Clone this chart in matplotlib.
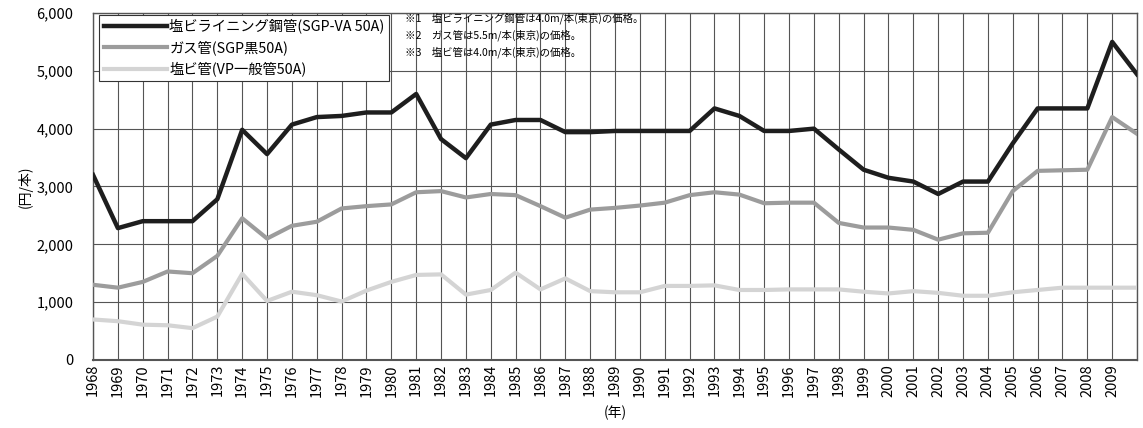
import matplotlib
matplotlib.use("Agg")
import matplotlib.pyplot as plt
from matplotlib.ticker import FuncFormatter

plt.rcParams['font.family'] = ['Noto Sans CJK JP', 'DejaVu Sans']

# Years and price series (円/本)
years = list(range(1968, 2011))
tick_labels = [str(y) for y in range(1968, 2010)] + [""]

lining_steel = [3200, 2280, 2400, 2400, 2400, 2780, 3980, 3560, 4070, 4200,
                4220, 4280, 4280, 4600, 3820, 3490, 4070, 4150, 4150, 3940,
                3940, 3960, 3960, 3960, 3960, 4350, 4220, 3960, 3960, 4000,
                3640, 3290, 3150, 3085, 2870, 3085, 3085, 3745, 4350, 4350,
                4350, 5500, 4940]
gas_pipe = [1300, 1250, 1350, 1530, 1500, 1800, 2450, 2100, 2320, 2390,
            2620, 2660, 2690, 2900, 2920, 2810, 2870, 2850, 2660, 2460,
            2600, 2630, 2670, 2720, 2850, 2900, 2860, 2710, 2720, 2720,
            2370, 2290, 2290, 2250, 2080, 2190, 2200, 2920, 3270, 3280,
            3290, 4200, 3910]
pvc_pipe = [700, 670, 610, 600, 550, 750, 1490, 1020, 1180, 1120,
            1010, 1200, 1350, 1470, 1480, 1130, 1210, 1510, 1220, 1410,
            1190, 1170, 1170, 1280, 1280, 1290, 1210, 1210, 1220, 1220,
            1220, 1180, 1150, 1190, 1160, 1110, 1110, 1170, 1210, 1250,
            1250, 1250, 1250]

labels = ["塩ビライニング鋼管(SGP-VA 50A)", "ガス管(SGP黒50A)", "塩ビ管(VP一般管50A)"]
notes = ["※1　塩ビライニング鋼管は4.0m/本(東京)の価格。",
         "※2　ガス管は5.5m/本(東京)の価格。",
         "※3　塩ビ管は4.0m/本(東京)の価格。"]

fig = plt.figure(figsize=(11.43, 4.28), dpi=100)
ax = fig.add_axes([0.0814, 0.159, 0.9134, 0.8106])

ax.plot(years, lining_steel, color="#1e1e1e", linewidth=3.2, label=labels[0], zorder=5)
ax.plot(years, gas_pipe, color="#9c9c9c", linewidth=3.0, label=labels[1], zorder=4)
ax.plot(years, pvc_pipe, color="#d4d4d4", linewidth=3.0, label=labels[2], zorder=3)

ax.set_xlim(1968, 2010)
ax.set_ylim(0, 6000)
ax.set_xticks(years)
ax.set_xticklabels(tick_labels, rotation=90, fontsize=10.5)
ax.set_yticks(range(0, 6001, 1000))
ax.yaxis.set_major_formatter(FuncFormatter(lambda v, p: "{:,}".format(int(v))))
ax.tick_params(axis="y", labelsize=10.5, length=0, pad=14)
ax.tick_params(axis="x", length=0, pad=3)

ax.grid(True, axis="both", color="#555555", linewidth=0.8)
for s in ax.spines.values():
    s.set_color("#555555")
    s.set_linewidth(1.0)
ax.spines["bottom"].set_linewidth(1.5)

ax.set_ylabel("(円/本)", fontsize=10, labelpad=3)
ax.set_xlabel("(年)", fontsize=10, labelpad=6)

leg = ax.legend(loc="upper left", bbox_to_anchor=(0.006, 0.995), fontsize=10.3,
                handlelength=4.4, handletextpad=0.2, borderpad=0.3,
                labelspacing=0.45, borderaxespad=0.0, fancybox=False,
                framealpha=1.0)
leg.get_frame().set_edgecolor("#333333")
leg.get_frame().set_linewidth(0.8)

for i, n in enumerate(notes):
    fig.text(0.354, 0.957 - i * 0.040, n, fontsize=7.5, va="center", ha="left")

fig.savefig("out.png", dpi=100)
